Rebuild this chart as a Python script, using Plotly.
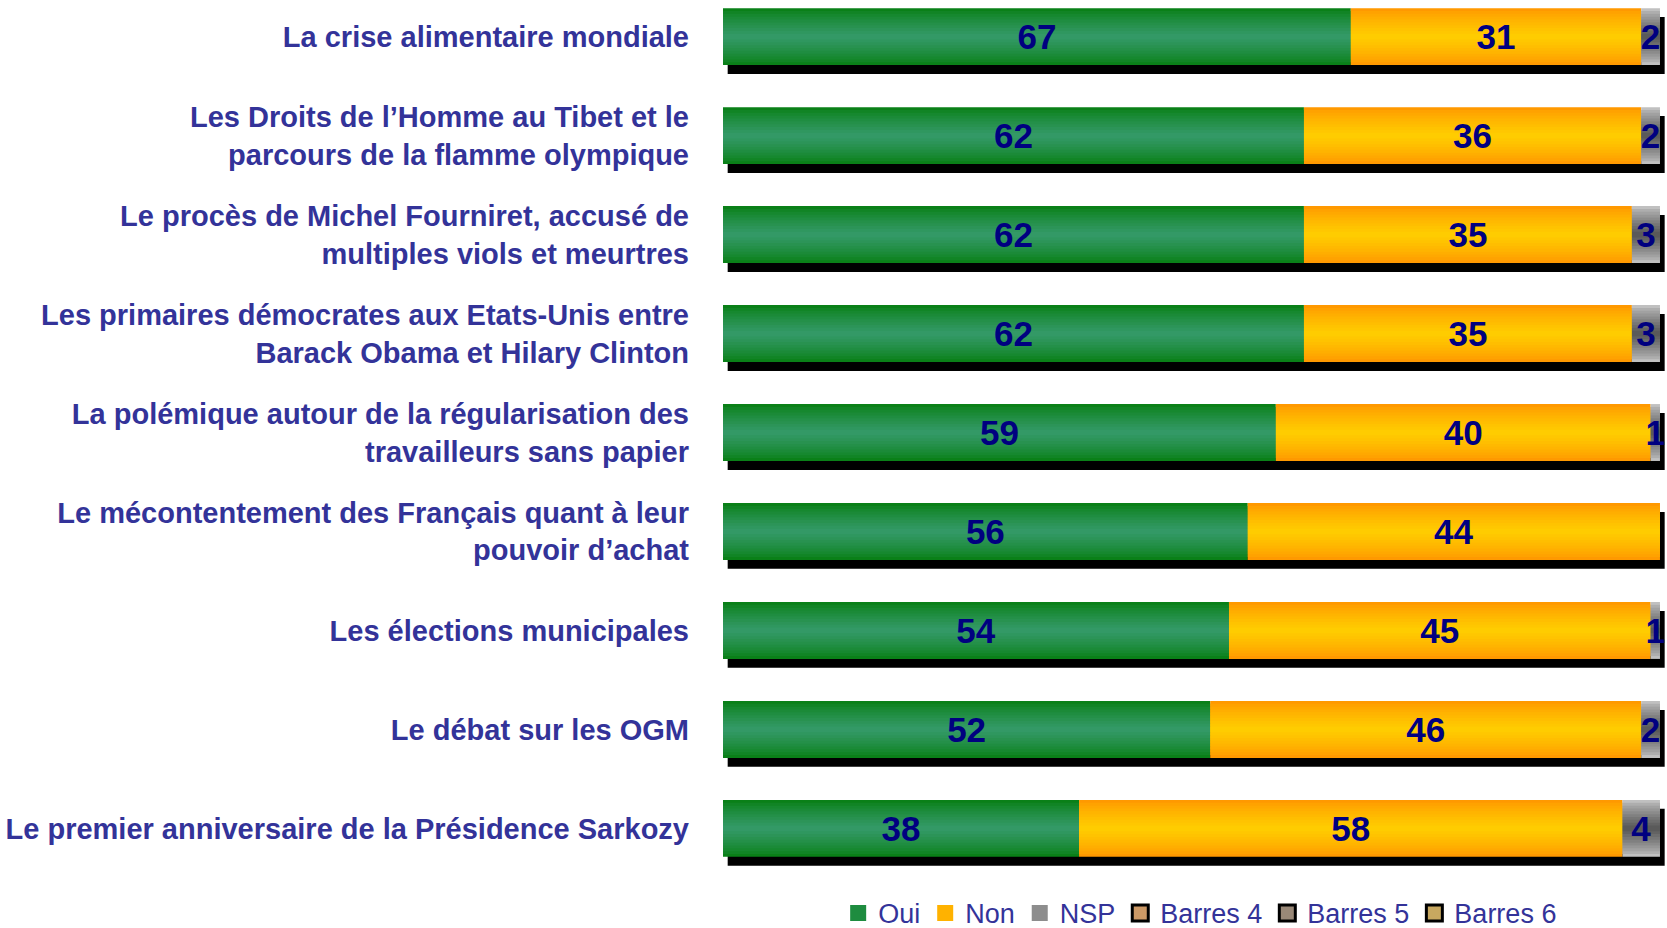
import plotly.graph_objects as go

# sondage : avez-vous suivi ces sujets d'actualité ?
themes = [
    "La crise alimentaire mondiale",
    "Les Droits de l’Homme au Tibet et le<br>parcours de la flamme olympique",
    "Le procès de Michel Fourniret, accusé de<br>multiples viols et meurtres",
    "Les primaires démocrates aux Etats-Unis entre<br>Barack Obama et Hilary Clinton",
    "La polémique autour de la régularisation des<br>travailleurs sans papier",
    "Le mécontentement des Français quant à leur<br>pouvoir d’achat",
    "Les élections municipales",
    "Le débat sur les OGM",
    "Le premier anniversaire de la Présidence Sarkozy",
]
oui = [67, 62, 62, 62, 59, 56, 54, 52, 38]
non = [31, 36, 35, 35, 40, 44, 45, 46, 58]
nsp = [2, 2, 3, 3, 1, 0, 1, 2, 4]

legende_vide = ["Barres 4", "Barres 5", "Barres 6"]

LABEL_COL = "#333399"
NUM_COL = "#000080"
FONT = "Liberation Sans"

# couleurs : bord du dégradé -> milieu du dégradé
series = [
    ("Oui", oui, [0 for _ in oui], (10, 128, 24), (51, 153, 102)),
    ("Non", non, oui, (255, 153, 0), (255, 204, 0)),
    ("NSP", nsp, [a + b for a, b in zip(oui, non)], (192, 192, 192), (90, 90, 90)),
]
totals = [a + b + c for a, b, c in zip(oui, non, nsp)]

W = 0.575      # épaisseur des barres
N_LAYERS = 10  # nombre de couches pour simuler le dégradé


def mix(c1, c2, t):
    return "rgb(%d,%d,%d)" % tuple(round(a + (b - a) * t) for a, b in zip(c1, c2))


fig = go.Figure()

# ombre portée
fig.add_trace(go.Bar(
    y=themes, x=totals, base=0.5, orientation="h",
    width=W, offset=-W / 2 + 0.09,
    marker=dict(color="black", line=dict(width=0)),
    showlegend=False, hoverinfo="skip",
))

# dégradé vertical : couches de plus en plus fines et claires
for k in range(N_LAYERS):
    frac = 1 - k / N_LAYERS
    t = (k / (N_LAYERS - 1)) ** 0.8
    for name, vals, base, c_edge, c_mid in series:
        fig.add_trace(go.Bar(
            y=themes, x=vals, base=base, orientation="h",
            width=W * frac,
            marker=dict(color=mix(c_edge, c_mid, t), line=dict(width=0)),
            showlegend=False, hoverinfo="skip",
        ))

# étiquettes de valeurs
for name, vals, base, c_edge, c_mid in series:
    fig.add_trace(go.Bar(
        y=themes, x=vals, base=base, orientation="h", width=W,
        marker=dict(color="rgba(0,0,0,0)", line=dict(width=0)),
        text=[str(v) if v else "" for v in vals],
        textposition="inside", insidetextanchor="middle",
        constraintext="none", cliponaxis=False,
        textfont=dict(family=FONT, size=35, color=NUM_COL, weight="bold"),
        showlegend=False, hoverinfo="skip",
    ))

# légende : carrés
legend_items = [(name, mix(c_edge, c_mid, 0.5), None)
                for name, vals, base, c_edge, c_mid in series]
legend_items += list(zip(legende_vide, ["#CC9966", "#998877", "#C8A860"], ["black"] * 3))
for name, col, border in legend_items:
    fig.add_trace(go.Scatter(
        x=[None], y=[None], mode="markers", name=name,
        marker=dict(symbol="square", size=16, color=col,
                    line=dict(color=border or col, width=3 if border else 0)),
    ))

fig.update_layout(
    barmode="overlay",
    width=1667, height=928,
    margin=dict(l=723, r=0, t=0, b=60, autoexpand=False),
    paper_bgcolor="white", plot_bgcolor="white",
    font=dict(family=FONT, color=LABEL_COL),
    xaxis=dict(range=[0, 100.75], visible=False, fixedrange=True),
    yaxis=dict(
        categoryorder="array", categoryarray=themes,
        range=[8.4, -0.37], showgrid=False, zeroline=False,
        ticks="", ticklabelstandoff=33,
        tickfont=dict(family=FONT, size=29, color=LABEL_COL, weight="bold"),
    ),
    legend=dict(
        orientation="h", x=0.122, xanchor="left", y=-0.024, yanchor="top",
        font=dict(family=FONT, size=27, color=LABEL_COL),
        itemwidth=30, tracegroupgap=0,
    ),
)

# pas de marge autour de la page
fig.write_html("out.html", config={"displayModeBar": False},
               post_script="document.body.style.margin='0';")
